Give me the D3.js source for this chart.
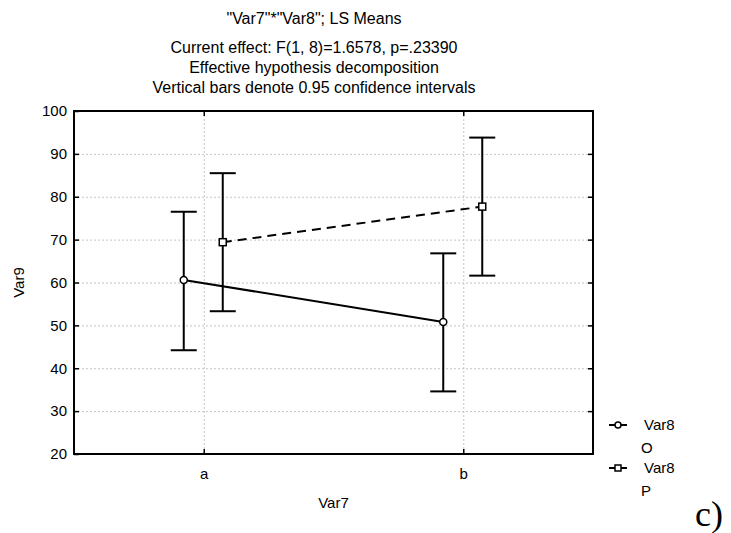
<!DOCTYPE html>
<html>
<head>
<meta charset="utf-8">
<script src="https://cdn.jsdelivr.net/npm/d3@7"></script>
<style>
  html, body { margin: 0; padding: 0; background: #fff; }
  svg { display: block; font-family: "Liberation Sans", Arial, sans-serif; }
</style>
</head>
<body>
<svg id="chart" width="731" height="533"></svg>
<script>
// data
const categories = ["a", "b"];
const seriesNames = ["O", "P"];
const meansO = [60.6, 50.8];
const lowerO = [44.2, 34.6];
const upperO = [76.5, 66.8];
const meansP = [69.4, 77.7];
const lowerP = [53.3, 61.6];
const upperP = [85.5, 93.8];
const yTicks = [20, 30, 40, 50, 60, 70, 80, 90, 100];

const titleLines = [
  "\"Var7\"*\"Var8\"; LS Means",
  "Current effect: F(1, 8)=1.6578, p=.23390",
  "Effective hypothesis decomposition",
  "Vertical bars denote 0.95 confidence intervals"
];

const svg = d3.select("#chart");

const PLOT = { left: 74, right: 593, top: 111, bottom: 454 };
const FONT = 15;
const TITLE_FONT = 16;
const TICK = 5;

const x = d3.scalePoint().domain(categories).range([PLOT.left, PLOT.right]).padding(0.5);
const y = d3.scaleLinear().domain([20, 100]).range([PLOT.bottom, PLOT.top]);
const offset = d3.scalePoint().domain(seriesNames).range([-20, 19]);

const series = [
  { name: "O", means: meansO, lower: lowerO, upper: upperO, marker: "circle", dash: null },
  { name: "P", means: meansP, lower: lowerP, upper: upperP, marker: "square", dash: "9,6" }
];

// titles
svg.append("g")
  .selectAll("text")
  .data(titleLines)
  .join("text")
  .attr("x", 314)
  .attr("y", (d, i) => [24, 53, 73, 93][i])
  .attr("text-anchor", "middle")
  .attr("font-size", TITLE_FONT)
  .attr("fill", "#000")
  .text((d) => d);

// grid
const grid = svg.append("g")
  .attr("stroke", "#c4c4c4")
  .attr("stroke-width", 1)
  .attr("stroke-dasharray", "2,2");

grid.selectAll("line.hgrid")
  .data(yTicks.slice(1, -1))
  .join("line")
  .attr("class", "hgrid")
  .attr("x1", PLOT.left)
  .attr("x2", PLOT.right)
  .attr("y1", (d) => y(d) + 0.5)
  .attr("y2", (d) => y(d) + 0.5);

grid.selectAll("line.vgrid")
  .data(categories)
  .join("line")
  .attr("class", "vgrid")
  .attr("x1", (d) => x(d) + 0.5)
  .attr("x2", (d) => x(d) + 0.5)
  .attr("y1", PLOT.top)
  .attr("y2", PLOT.bottom);

// axes (ticks pointing inward)
function styleAxis(g) {
  g.select(".domain").remove();
  g.selectAll(".tick line").attr("stroke", "#000").attr("stroke-width", 1.5);
  g.selectAll(".tick text").attr("fill", "#000").attr("font-size", FONT).attr("font-family", null);
}

svg.append("g")
  .attr("transform", `translate(${PLOT.left},0)`)
  .call(d3.axisLeft(y).tickValues(yTicks).tickSize(-TICK).tickPadding(7))
  .call(styleAxis);

svg.append("g")
  .attr("transform", `translate(${PLOT.right},0)`)
  .call(d3.axisRight(y).tickValues(yTicks.slice(1, -1)).tickSize(-TICK).tickFormat(""))
  .call(styleAxis);

svg.append("g")
  .attr("transform", `translate(0,${PLOT.bottom})`)
  .call(d3.axisBottom(x).tickSize(-TICK).tickPadding(14))
  .call(styleAxis);

svg.append("g")
  .attr("transform", `translate(0,${PLOT.top})`)
  .call(d3.axisTop(x).tickSize(-TICK).tickFormat(""))
  .call(styleAxis);

// frame
svg.append("rect")
  .attr("x", PLOT.left)
  .attr("y", PLOT.top)
  .attr("width", PLOT.right - PLOT.left)
  .attr("height", PLOT.bottom - PLOT.top)
  .attr("fill", "none")
  .attr("stroke", "#000")
  .attr("stroke-width", 2);

// axis titles
svg.append("text")
  .attr("x", (PLOT.left + PLOT.right) / 2)
  .attr("y", 508)
  .attr("text-anchor", "middle")
  .attr("font-size", FONT)
  .text("Var7");

svg.append("text")
  .attr("transform", `translate(24,${(PLOT.top + PLOT.bottom) / 2}) rotate(-90)`)
  .attr("text-anchor", "middle")
  .attr("font-size", FONT)
  .text("Var9");

// series
const line = d3.line()
  .x((d) => d.x)
  .y((d) => d.y);

const CAP = 13;

for (const s of series) {
  const pts = categories.map((c, i) => ({
    x: x(c) + offset(s.name),
    y: y(s.means[i]),
    lo: y(s.lower[i]),
    hi: y(s.upper[i])
  }));

  const g = svg.append("g").attr("class", `series-${s.name}`);

  g.append("path")
    .attr("d", line(pts))
    .attr("fill", "none")
    .attr("stroke", "#000")
    .attr("stroke-width", 2)
    .attr("stroke-dasharray", s.dash);

  const bars = g.selectAll("g.bar").data(pts).join("g").attr("class", "bar")
    .attr("stroke", "#000").attr("stroke-width", 2);

  bars.append("line")
    .attr("x1", (d) => d.x).attr("x2", (d) => d.x)
    .attr("y1", (d) => d.lo).attr("y2", (d) => d.hi);
  bars.append("line")
    .attr("x1", (d) => d.x - CAP).attr("x2", (d) => d.x + CAP)
    .attr("y1", (d) => d.hi).attr("y2", (d) => d.hi);
  bars.append("line")
    .attr("x1", (d) => d.x - CAP).attr("x2", (d) => d.x + CAP)
    .attr("y1", (d) => d.lo).attr("y2", (d) => d.lo);

  if (s.marker === "circle") {
    g.selectAll("circle").data(pts).join("circle")
      .attr("cx", (d) => d.x).attr("cy", (d) => d.y).attr("r", 3.5)
      .attr("fill", "#fff").attr("stroke", "#000").attr("stroke-width", 1.5);
  } else {
    g.selectAll("rect").data(pts).join("rect")
      .attr("x", (d) => d.x - 3.5).attr("y", (d) => d.y - 3.5)
      .attr("width", 7).attr("height", 7)
      .attr("fill", "#fff").attr("stroke", "#000").attr("stroke-width", 1.5);
  }
}

// legend
const legend = svg.append("g").attr("font-size", FONT);
series.forEach((s, i) => {
  const ly = 425 + i * 43;
  legend.append("line")
    .attr("x1", 609).attr("x2", 627).attr("y1", ly).attr("y2", ly)
    .attr("stroke", "#000").attr("stroke-width", 2);
  if (s.marker === "circle") {
    legend.append("circle").attr("cx", 618).attr("cy", ly).attr("r", 3)
      .attr("fill", "#fff").attr("stroke", "#000").attr("stroke-width", 1.5);
  } else {
    legend.append("rect").attr("x", 615).attr("y", ly - 3).attr("width", 6).attr("height", 6)
      .attr("fill", "#fff").attr("stroke", "#000").attr("stroke-width", 1.5);
  }
  legend.append("text").attr("x", 644).attr("y", ly).attr("dy", "0.35em").text("Var8");
  legend.append("text").attr("x", 641).attr("y", ly + 23).attr("dy", "0.35em").text(s.name);
});

// panel label
svg.append("text")
  .attr("x", 695)
  .attr("y", 526)
  .attr("font-family", "'Liberation Serif', 'Times New Roman', serif")
  .attr("font-size", 36)
  .text("c)");
</script>
</body>
</html>
